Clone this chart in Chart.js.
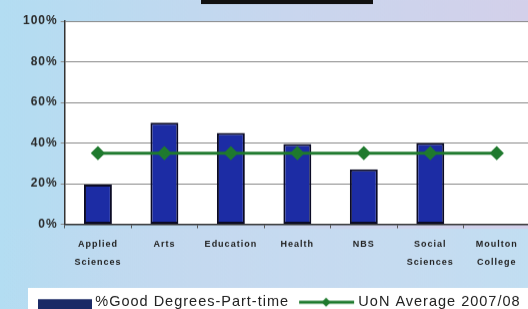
<!DOCTYPE html>
<html>
<head>
<meta charset="utf-8">
<script src="https://cdn.jsdelivr.net/npm/chart.js@4"></script>
<style>
html, body { margin: 0; padding: 0; overflow: hidden; width: 528px; height: 309px; }
#wrap { width: 540px; height: 318.5px; position: relative; }
</style>
</head>
<body>
<div id="wrap"><canvas id="myChart"></canvas></div>
<script>
const categories = [['Applied', 'Sciences'], 'Arts', 'Education', 'Health', 'NBS', ['Social', 'Sciences'], ['Moulton', 'College']];
const goodDegrees = [0.195, 0.50, 0.45, 0.395, 0.27, 0.40, null];
const uonAverage = [0.35, 0.35, 0.35, 0.35, 0.35, 0.35, 0.35];
const yTickLabels = ['0%', '20%', '40%', '60%', '80%', '100%'];

const barLabel = '%Good Degrees-Part-time';
const lineLabel = 'UoN Average 2007/08';
const fontFamily = "'Liberation Sans', Arial, sans-serif";

// legend icons (drawn centred on the legend box by chart.js)
let barIcon = document.createElement('canvas');
barIcon.width = 62; barIcon.height = 30;
let bctx = barIcon.getContext('2d');
bctx.fillStyle = '#1b2a66';
bctx.fillRect(8, 12, 54, 18);

let lineIcon = document.createElement('canvas');
lineIcon.width = 62; lineIcon.height = 12;
let lctx = lineIcon.getContext('2d');
lctx.strokeStyle = '#1f7a2e';
lctx.lineWidth = 3;
lctx.beginPath(); lctx.moveTo(6, 6); lctx.lineTo(61, 6); lctx.stroke();
lctx.fillStyle = '#1f7a2e';
lctx.beginPath(); lctx.moveTo(33, 1.5); lctx.lineTo(37.5, 6); lctx.lineTo(33, 10.5); lctx.lineTo(28.5, 6); lctx.closePath(); lctx.fill();

const backdrop = {
    id: 'backdrop',
    beforeLayout(chart) {
        chart.ctx.letterSpacing = '1px';
        // y labels sit a little outside the narrowed axis box, so don't clip them
        if (chart.scales.y) {
            chart.scales.y._computeLabelArea = function () { return undefined; };
        }
    },
    beforeDraw(chart) {
        const c = chart.ctx;
        const w = chart.width, h = chart.height;
        c.save();
        let g = c.createLinearGradient(0, 0, w, 0);
        g.addColorStop(0, '#b3ddf2');
        g.addColorStop(0.55, '#c9d6ee');
        g.addColorStop(1, '#d4d0ea');
        c.fillStyle = g;
        c.fillRect(0, 0, w, h);
        let g2 = c.createLinearGradient(0, 0, w, 0);
        g2.addColorStop(0, 'rgba(214,212,236,0)');
        g2.addColorStop(0.5, 'rgba(196,222,242,0.6)');
        g2.addColorStop(1, 'rgba(188,226,244,1)');
        c.fillStyle = g2;
        c.globalAlpha = 0.8;
        c.fillRect(0, 228, w, h - 228);
        c.globalAlpha = 1;
        // title bar remnant
        c.fillStyle = '#111';
        c.fillRect(201, 0, 172, 4);
        // plot area
        const a = chart.chartArea;
        c.fillStyle = '#ffffff';
        c.fillRect(a.left, a.top, a.right - a.left, a.bottom - a.top);
        // legend panel
        const lg = chart.legend;
        c.fillRect(lg.left + 2, lg.top + 1, w, h);
        c.restore();
        c.letterSpacing = '1px';
    }
};

let ctx = document.getElementById('myChart');
let myChart = new Chart(ctx, {
    type: 'bar',
    data: {
        labels: categories,
        datasets: [{
            type: 'bar',
            label: barLabel,
            data: goodDegrees,
            backgroundColor: '#1c2ca4',
            borderColor: '#0b0b25',
            borderWidth: 2,
            borderSkipped: false,
            barPercentage: 0.84,
            categoryPercentage: 0.5,
            order: 1
        }, {
            type: 'line',
            label: lineLabel,
            data: uonAverage,
            borderColor: '#1f7a2e',
            backgroundColor: '#1f7a2e',
            borderWidth: 3,
            pointStyle: 'rectRot',
            pointRadius: 5,
            pointBackgroundColor: '#1f7a2e',
            pointBorderColor: '#1f7a2e',
            fill: false,
            order: 0
        }]
    },
    options: {
        responsive: true,
        maintainAspectRatio: false,
        animation: false,
        devicePixelRatio: 1,
        layout: { padding: { left: 26, right: 10, top: 21, bottom: 0 } },
        scales: {
            x: {
                grid: { drawOnChartArea: false, drawTicks: true, tickLength: 4, color: '#555' },
                border: { color: '#333', width: 1.5 },
                ticks: {
                    autoSkip: false, maxRotation: 0, padding: 7,
                    color: '#222',
                    font: { family: fontFamily, size: 9, weight: 'bold', lineHeight: 2 }
                },
                afterFit(scale) { scale.height += 8.5; }
            },
            y: {
                min: 0, max: 1,
                ticks: {
                    stepSize: 0.2, padding: 3,
                    color: '#2a2a2a',
                    font: { family: fontFamily, size: 12, weight: 'bold' },
                    callback: function (v, i) { return yTickLabels[i]; }
                },
                grid: { color: '#8a8a8a', lineWidth: 1, tickLength: 4 },
                border: { color: '#333', width: 1.5 },
                afterFit(scale) { scale.width -= 6; }
            }
        },
        plugins: {
            tooltip: { enabled: false },
            legend: {
                position: 'bottom',
                align: 'start',
                labels: {
                    usePointStyle: true,
                    pointStyleWidth: 54,
                    padding: 8,
                    color: '#222',
                    font: { family: fontFamily, size: 14.5 },
                    sort: (a, b) => a.datasetIndex - b.datasetIndex,
                    generateLabels(chart) {
                        const items = Chart.defaults.plugins.legend.labels.generateLabels(chart);
                        items.forEach(it => { it.pointStyle = it.datasetIndex === 0 ? barIcon : lineIcon; });
                        return items;
                    }
                }
            }
        }
    },
    plugins: [backdrop]
});
</script>
</body>
</html>
